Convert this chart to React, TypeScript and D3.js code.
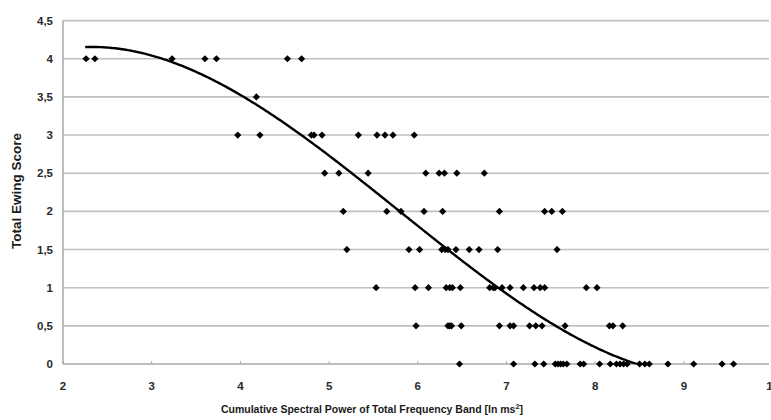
import React from "react";
import * as d3 from "d3";

// Spectral power values (ln ms²) observed at each Total Ewing Score level
const score4 = [2.26, 2.36, 3.23, 3.6, 3.73, 4.53, 4.69];
const score35 = [4.18];
const score3 = [3.97, 4.22, 4.8, 4.83, 4.92, 5.33, 5.54, 5.63, 5.72, 5.96];
const score25 = [4.95, 5.11, 5.44, 6.09, 6.24, 6.3, 6.44, 6.75];
const score2 = [5.16, 5.65, 5.81, 6.07, 6.28, 6.92, 7.43, 7.51, 7.63];
const score15 = [5.2, 5.9, 6.02, 6.27, 6.31, 6.34, 6.43, 6.58, 6.69, 6.9, 7.57];
const score1 = [5.53, 5.97, 6.12, 6.32, 6.36, 6.39, 6.48, 6.81, 6.85, 6.87, 6.95, 7.04, 7.19, 7.31, 7.38, 7.43, 7.9, 8.02];
const score05 = [5.98, 6.34, 6.36, 6.38, 6.49, 6.92, 7.04, 7.08, 7.26, 7.33, 7.4, 7.66, 8.16, 8.2, 8.31];
const score0 = [6.47, 7.08, 7.32, 7.42, 7.55, 7.58, 7.61, 7.64, 7.68, 7.83, 7.87, 8.05, 8.17, 8.24, 8.28, 8.32, 8.36, 8.5, 8.56, 8.61, 8.82, 9.11, 9.43, 9.56];

const scoreLevels = [4, 3.5, 3, 2.5, 2, 1.5, 1, 0.5, 0];
const scoreGroups = [score4, score35, score3, score25, score2, score15, score1, score05, score0];

// Cubic trendline coefficients in (x - 6): a + b t + c t^2 + d t^3
const trendCenter = 6;
const trendCoef = [1.81, -0.93, 0.0157, 0.0259];
const trendRange = [2.25, 9.8];

const xTicks = [2, 3, 4, 5, 6, 7, 8, 9, 10];
const yTicks = [0, 0.5, 1, 1.5, 2, 2.5, 3, 3.5, 4, 4.5];

const W = 771;
const H = 420;
const FONT = "'Liberation Sans', Arial, sans-serif";

export default function App() {
  const x = d3.scaleLinear().domain([2, 10]).range([63, 772.6]);
  const y = d3.scaleLinear().domain([0, 4.5]).range([364, 20.6]);

  const points: { x: number; y: number }[] = [];
  scoreGroups.forEach((g, i) => g.forEach((v) => points.push({ x: v, y: scoreLevels[i] })));

  const trend = (v: number) => {
    const t = v - trendCenter;
    return trendCoef[0] + trendCoef[1] * t + trendCoef[2] * t * t + trendCoef[3] * t * t * t;
  };
  const curvePts = d3.range(trendRange[0], trendRange[1] + 0.001, 0.02).map((v) => [v, trend(v)] as [number, number]);
  const line = d3
    .line<[number, number]>()
    .x((d) => x(d[0]))
    .y((d) => y(d[1]))
    .curve(d3.curveLinear);

  const fmt = (v: number) => String(v).replace(".", ",");
  const r = 3.6;

  return (
    <div style={{ position: "absolute", left: 0, top: 0 }}>
      <svg width={W} height={H} style={{ display: "block", background: "#fff" }}>
        <defs>
          <clipPath id="plotClip">
            <rect x={x(2)} y={0} width={W} height={y(0) + 0.5} />
          </clipPath>
        </defs>
        {/* gridlines */}
        {yTicks.filter((t) => t > 0).map((t) => (
          <line key={t} x1={x(2)} x2={769} y1={y(t)} y2={y(t)} stroke="#c0c0c0" strokeWidth={1.6} />
        ))}
        {/* axes */}
        <line x1={x(2)} x2={x(2)} y1={y(4.5)} y2={y(0)} stroke="#a8a8a8" strokeWidth={1.5} />
        <line x1={x(2)} x2={769} y1={y(0)} y2={y(0)} stroke="#a8a8a8" strokeWidth={1.6} />
        {xTicks.map((t) => (
          <line key={t} x1={x(t)} x2={x(t)} y1={y(0)} y2={y(0) - 3} stroke="#a8a8a8" strokeWidth={1} />
        ))}
        {/* y tick labels */}
        {yTicks.map((t) => (
          <text key={t} x={53} y={y(t)} dy="0.35em" textAnchor="end" fontFamily={FONT} fontWeight="bold" fontSize={11.5} fill="#2a2a2a">
            {fmt(t)}
          </text>
        ))}
        {/* x tick labels */}
        {xTicks.map((t) => (
          <text key={t} x={x(t)} y={386} dy="0.35em" textAnchor="middle" fontFamily={FONT} fontWeight="bold" fontSize={11.5} fill="#2a2a2a">
            {t}
          </text>
        ))}
        {/* points */}
        {points.map((p, i) => {
          const px = x(p.x);
          const py = y(p.y);
          return (
            <path key={i} d={`M${px},${py - r}L${px + r},${py}L${px},${py + r}L${px - r},${py}Z`} fill="#000" />
          );
        })}
        {/* trendline */}
        <path d={line(curvePts) || ""} fill="none" stroke="#000" strokeWidth={2.4} clipPath="url(#plotClip)" />
        {/* axis titles */}
        <text x={372} y={413} textAnchor="middle" fontFamily={FONT} fontWeight="bold" fontSize={10.5} fill="#1a1a1a">
          Cumulative Spectral Power of Total Frequency Band [ln ms
          <tspan dy={-4} fontSize={7.5}>2</tspan>
          <tspan dy={4}>]</tspan>
        </text>
        <text
          transform={`translate(21,${191}) rotate(-90)`}
          textAnchor="middle"
          fontFamily={FONT}
          fontWeight="bold"
          fontSize={13.5}
          fill="#1a1a1a"
        >
          Total Ewing Score
        </text>
      </svg>
    </div>
  );
}
